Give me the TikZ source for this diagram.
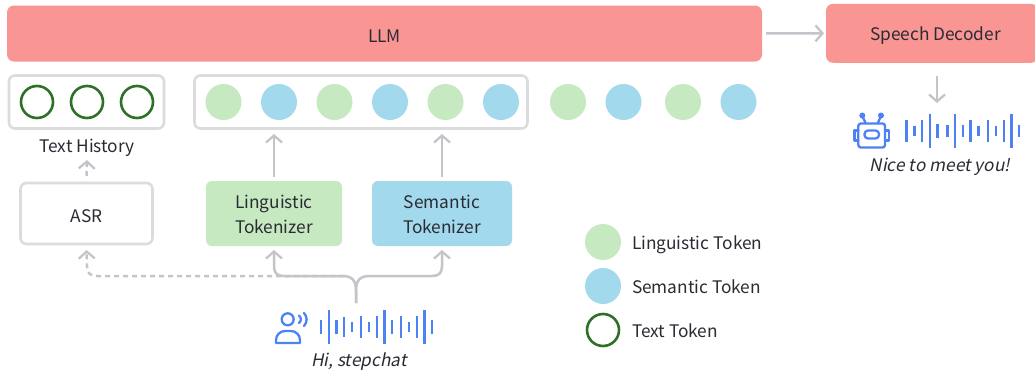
\documentclass[tikz,border=0pt]{standalone}
\usepackage{fontspec}
\setmainfont{Noto Sans CJK SC}
\newfontfamily\slantfont[FakeSlant=0.2]{Noto Sans CJK SC}
\usetikzlibrary{arrows.meta}
\definecolor{llmred}{HTML}{F99694}
\definecolor{lingreen}{HTML}{C6E9C1}
\definecolor{semblue}{HTML}{A3D9EC}
\definecolor{tokgreen}{HTML}{2F6F28}
\definecolor{boxgray}{HTML}{DCDCDC}
\definecolor{arrowgray}{HTML}{C3C5CA}
\definecolor{iconblue}{HTML}{4D82F5}
\definecolor{inktext}{HTML}{2A2C33}
\tikzset{
  x=1pt,y=-1pt,
  every node/.style={text=inktext,font=\fontsize{17.3}{25}\selectfont,inner sep=0pt,outer sep=0pt},
  redbox/.style={fill=llmred,rounded corners=7pt,minimum height=56pt,anchor=center},
  graybox/.style={draw=boxgray,line width=2.6pt,rounded corners=6pt,fill=white},
  tokbox/.style={rounded corners=6pt,minimum width=136pt,minimum height=65pt},
  lingtok/.style={circle,fill=lingreen,minimum size=36pt},
  semtok/.style={circle,fill=semblue,minimum size=36pt},
  texttok/.style={circle,draw=tokgreen,line width=2.6pt,minimum size=32pt},
  flow/.style={draw=arrowgray,line width=2.5pt,-{Straight Barb[length=7pt,width=16pt,line width=2.3pt]}},
  dashflow/.style={flow,dash pattern=on 5pt off 4pt},
  wave/.style={draw=iconblue,line width=2.4pt},
  icon/.style={draw=iconblue,line width=2.3pt,line cap=round,line join=round},
  lbl/.style={anchor=base west},
  saying/.style={anchor=base,font=\fontsize{17.3}{22}\selectfont\slantfont}
}
\newcommand{\wavebars}[2]{%
  \foreach \bx/\bh in {#1} \draw[wave] (\bx,#2-\bh) -- (\bx,#2+\bh);
}
\newcommand{\lowered}[1]{\raisebox{-2.5pt}[\height][\depth]{#1}}
\newcommand{\twolines}[2]{\raisebox{-2.5pt}[\height][\depth]{\begin{tabular}{@{}c@{}}#1\\#2\end{tabular}}}
\begin{document}
\begin{tikzpicture}
\useasboundingbox (0,0) rectangle (1035,372);
\fill[white] (0,0) rectangle (1035,372);
% top boxes
\node[redbox,minimum width=755pt] (llm) at (384.5,33.5) {\lowered{LLM}};
\node[redbox,minimum width=212pt,minimum height=59pt] (dec) at (932,33.3) {\lowered{\hspace*{7pt}Speech Decoder}};
\draw[flow] ([xshift=4pt]llm.east) -- ([xshift=-2pt]dec.west);
% history
\node[graybox,minimum width=155pt,minimum height=53pt] (hist) at (86.5,102) {};
\node[texttok] (h1) at (37,102) {};
\node[texttok] (h2) at (87,102) {};
\node[texttok] (h3) at (137,102) {};
\node[anchor=base] (histlbl) at (87,152.5) {Text History};
% token group
\node[graybox,minimum width=333pt,minimum height=53pt] (group) at (361,102) {};
\node[lingtok] (t1) at (223.5,102) {};
\node[semtok] (t2) at (279,102) {};
\node[lingtok] (t3) at (334.5,102) {};
\node[semtok] (t4) at (390,102) {};
\node[lingtok] (t5) at (445.5,102) {};
\node[semtok] (t6) at (501,102) {};
\node[lingtok] (t7) at (568,102) {};
\node[semtok] (t8) at (623.5,102) {};
\node[lingtok] (t9) at (683,102) {};
\node[semtok] (t10) at (738.5,102) {};
% tokenizers
\node[graybox,minimum width=132pt,minimum height=61pt] (asr) at (86.5,213.5) {\lowered{ASR}};
\node[tokbox,fill=lingreen] (lt) at (274,213.5) {\twolines{Linguistic}{Tokenizer}};
\node[tokbox,fill=semblue,minimum width=140pt] (st) at (442,213.5) {\twolines{Semantic}{Tokenizer}};
\draw[flow] ([yshift=4pt]lt.north) -- ([yshift=-5.5pt]group.south -| lt.north);
\draw[flow] ([yshift=4pt]st.north) -- ([yshift=-5.5pt]group.south -| st.north);
\draw[dashflow] ([yshift=7pt]asr.north) -- ([yshift=-3.5pt]histlbl.south);
% input
\coordinate (jct) at (356,303);
\draw[dashflow] (344,276) -- (97,276) .. controls (90,276) and (87,273) .. (87,266) -- ([yshift=-6pt]asr.south);
\draw[flow] (jct) -- (356,291) .. controls (356,280) and (352,276) .. (342,276) -- (284,276) .. controls (277,276) and (274,273) .. (274,266) -- ([yshift=-4pt]lt.south);
\draw[flow] (jct) -- (356,291) .. controls (356,280) and (360,276) .. (370,276) -- (432,276) .. controls (439,276) and (442,273) .. (442,266) -- ([yshift=-4pt]st.south);
% user icon
\draw[icon] (287.7,319.3) circle (6pt);
\draw[icon] (276,343) [rounded corners=9pt] -- (276,331) -- (300,331) [sharp corners] -- (300,343) -- cycle;
\draw[icon] (299,315.5) .. controls (301.5,318) and (301.5,320.5) .. (299,323);
\draw[icon] (304,313) .. controls (307.5,317) and (307.5,322) .. (304,326);
\wavebars{321/7,328.7/17,336.3/7,344/10,351.7/5,361/11,369/5,376.7/11,384.3/17,392/7,401/11,409/5,416.7/11,424.3/17,432/7}{327}
\node[saying] (hi) at (359,366.5) {Hi, stepchat};
% robot
\coordinate (a5) at (937,76);
\draw[flow] (a5) -- (937,103);
\draw[icon,rounded corners=2.5pt] (858.3,123.5) rectangle (885,147.5);
\draw[icon] (858.3,130.5) -- (854.5,130.5) -- (854.5,140.5) -- (858.3,140.5);
\draw[icon] (885,130.5) -- (889,130.5) -- (889,140.5) -- (885,140.5);
\draw[icon,rounded corners=3.5pt] (864.5,130.5) rectangle (879,138.5);
\draw[icon] (865.7,123.3) -- (862.3,116);
\draw[icon] (877.7,123.3) -- (881,116);
\fill[iconblue] (862.3,115.5) circle (3pt) (881,115.5) circle (3pt);
\wavebars{906.3/11,914.3/5,922/11,929.7/17,937.3/7,947.3/6,955/17,962.7/6,970.3/11,978.3/5,987.7/11,995.7/5,1003.7/11,1011.3/17,1019/6}{130.7}
\node[saying] (nice) at (940,171.5) {Nice to meet you!};
% legend
\node[lingtok] (k1) at (603,242) {};
\node[semtok] (k2) at (603,286) {};
\node[texttok] (k3) at (603,330) {};
\node[lbl] (k1t) at (632,249.7) {Linguistic Token};
\node[lbl] (k2t) at (632,293.3) {Semantic Token};
\node[lbl] (k3t) at (632,337.5) {Text Token};
\end{tikzpicture}
\end{document}
